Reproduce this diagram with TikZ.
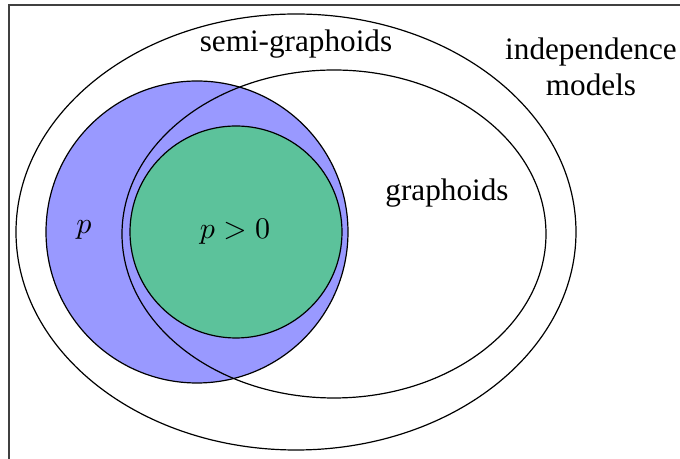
\documentclass[tikz,border=0pt]{standalone}
\usepackage{fontspec}
\setmainfont{Liberation Serif}
\definecolor{pblue}{RGB}{153,153,255}
\definecolor{pgreen}{RGB}{92,194,155}
\begin{document}
\begin{tikzpicture}[
    x=0.3333pt, y=-0.3333pt,
    setline/.style ={draw=black, line width=0.4pt},
    lbl/.style     ={font=\fontsize{10.4}{12}\selectfont, inner sep=0pt, align=center},
    mlbl/.style    ={font=\fontsize{10}{12}\selectfont, inner sep=0pt},
  ]
  \useasboundingbox (0,0) rectangle (680,459);
  \clip (0,0) rectangle (680,459);
  \draw[line width=0.5pt, draw=black!75] (9,5) rectangle (720,490);
  % fills first, outlines after
  \fill[pblue]  (197,232) circle [radius=151];
  \fill[pgreen] (236,232) circle [radius=106];
  \draw[setline] (296,232) ellipse [x radius=280, y radius=218];
  \draw[setline] (334,234) ellipse [x radius=212, y radius=164];
  \draw[setline] (197,232) circle [radius=151];
  \draw[setline] (236,232) circle [radius=106];
  \node[lbl]  (semi)   at (296,44)  {semi-graphoids};
  \node[lbl]  (indep)  at (591,67)  {independence\\models};
  \node[lbl]  (graph)  at (447,193) {graphoids};
  \node[mlbl] (pos)    at (84,230)  {$p$};
  \node[mlbl] (strict) at (235,232) {$p>0$};
\end{tikzpicture}
\end{document}
